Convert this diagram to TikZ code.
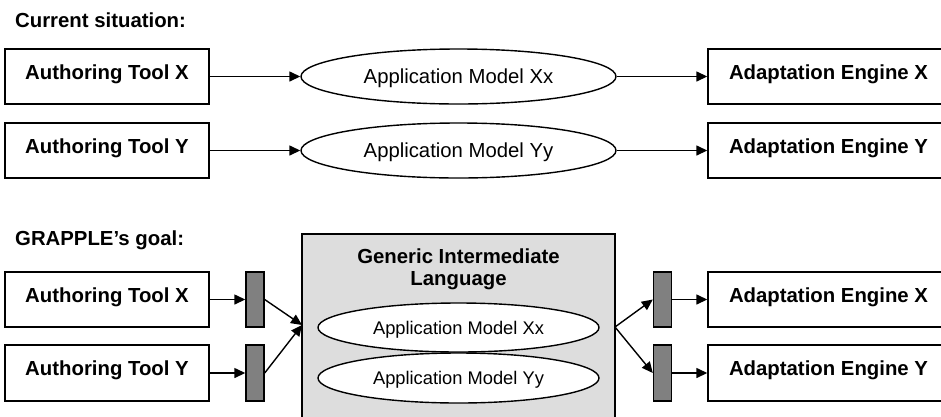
\documentclass[tikz,border=0pt]{standalone}
\usepackage{fontspec}
\setmainfont{Liberation Sans}
\usetikzlibrary{shapes.geometric,arrows.meta}

\definecolor{panelgray}{RGB}{221,221,221}
\definecolor{portgray}{RGB}{128,128,128}

\tikzset{
  boldfont/.style={font=\fontsize{20.35}{24}\selectfont\bfseries},
  toolbox/.style={draw, line width=1.4pt, fill=white, boldfont,
    minimum height=55pt, inner sep=0pt, text height=15pt, text depth=9.5pt},
  modelell/.style={ellipse, draw, line width=1.4pt, fill=white, inner sep=0pt,
    font=\fontsize{20.3}{24}\selectfont, text height=14.6pt, text depth=0pt},
  smallell/.style={modelell, font=\fontsize{18.3}{22}\selectfont,
    text height=13.1pt},
  port/.style={draw, line width=1.4pt, fill=portgray, minimum width=18pt,
    minimum height=55pt, inner sep=0pt},
  flow/.style={line width=1.4pt, -{Triangle[length=11pt,width=10pt]}},
  heading/.style={boldfont, anchor=base west, inner sep=0pt},
}

\begin{document}
\begin{tikzpicture}[x=1pt, y=-1pt]
  \useasboundingbox (0,0) rectangle (941,416);
  \clip (0,0) rectangle (941,416);

  % ---- current situation ----
  \node[heading] (cur) at (15,27) {Current situation:};

  \node[toolbox, minimum width=204pt] (atx) at (107,76.5) {Authoring Tool X};
  \node[toolbox, minimum width=204pt] (aty) at (107,150.5) {Authoring Tool Y};

  \node[modelell, minimum width=315pt, minimum height=55pt] (amx) at (458.5,76.5) {Application Model Xx};
  \node[modelell, minimum width=315pt, minimum height=55pt] (amy) at (458.5,150.5) {Application Model Yy};

  \node[toolbox, minimum width=241pt] (aex) at (828.5,76.5) {Adaptation Engine X};
  \node[toolbox, minimum width=241pt] (aey) at (828.5,150.5) {Adaptation Engine Y};

  \draw[flow] (atx.east) -- (amx.west);
  \draw[flow] (aty.east) -- (amy.west);
  \draw[flow] (amx.east) -- (aex.west);
  \draw[flow] (amy.east) -- (aey.west);

  % ---- GRAPPLE's goal ----
  \node[heading] (goal) at (15,245) {GRAPPLE’s goal:};

  \node[draw, line width=1.4pt, fill=panelgray, minimum width=313pt,
        minimum height=200pt, inner sep=0pt] (gil) at (458.5,334) {};
  \node[boldfont, anchor=base, inner sep=0pt] (gilt1) at (458.5,263) {Generic Intermediate};
  \node[boldfont, anchor=base, inner sep=0pt] (gilt2) at (458.5,285) {Language};

  \node[smallell, minimum width=281pt, minimum height=49pt] (gmx) at (458.5,327.5) {Application Model Xx};
  \node[smallell, minimum width=281pt, minimum height=50pt] (gmy) at (458.5,378) {Application Model Yy};

  \node[toolbox, minimum width=204pt] (batx) at (107,299.5) {Authoring Tool X};
  \node[toolbox, minimum width=204pt, minimum height=56pt] (baty) at (107,373) {Authoring Tool Y};

  \node[port] (pinx) at (255,299.5) {};
  \node[port, minimum height=56pt] (piny) at (255,373) {};
  \node[port] (poutx) at (662.5,299.5) {};
  \node[port, minimum height=56pt] (pouty) at (662.5,373) {};

  \node[toolbox, minimum width=241pt] (baex) at (828.5,299.5) {Adaptation Engine X};
  \node[toolbox, minimum width=241pt, minimum height=56pt] (baey) at (828.5,373) {Adaptation Engine Y};

  \coordinate (inL) at (302,325);
  \coordinate (outR) at (615,327);

  \draw[flow] (batx.east) -- (pinx.west);
  \draw[flow] (baty.east) -- (piny.west);
  \draw[flow] (pinx.east) -- (inL);
  \draw[flow] (piny.east) -- (inL);
  \draw[flow] (outR) -- (poutx.west);
  \draw[flow] (outR) -- (pouty.west);
  \draw[flow] (poutx.east) -- (baex.west);
  \draw[flow] (pouty.east) -- (baey.west);
\end{tikzpicture}
\end{document}
